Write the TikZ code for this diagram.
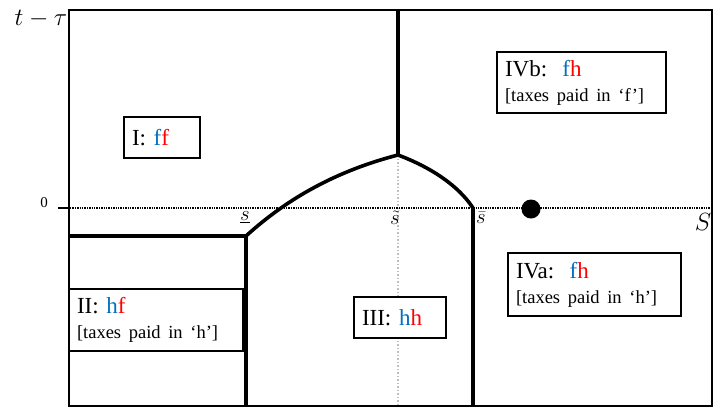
\documentclass[tikz,border=0pt]{standalone}
\usepackage{fontspec}
\setmainfont{Liberation Serif}
\definecolor{fblue}{RGB}{0,112,192}
\definecolor{hred}{RGB}{255,0,0}
\newcommand{\hh}{\textcolor{hred}{h}}
\newcommand{\fb}{\textcolor{fblue}{f}}
\newcommand{\hb}{\textcolor{fblue}{h}}
\newcommand{\fr}{\textcolor{hred}{f}}
\newcommand{\smalltax}[1]{{\fontsize{18.5}{21}\selectfont [taxes paid in ‘#1’]}}
\begin{document}
\begin{tikzpicture}[x=1pt,y=-1pt,
  regbox/.style={draw=black,line width=1.8pt,fill=white,inner ysep=0pt,inner xsep=8pt,align=left,font=\fontsize{23}{26}\selectfont},
  border/.style={line width=2pt},
  thickline/.style={line width=3.6pt},
  axisdot/.style={densely dotted,line width=1.4pt},
  guide/.style={dotted,line width=1.5pt,black!25},
  lab/.style={font=\fontsize{20}{22}\selectfont,inner sep=0pt}]
\useasboundingbox (0,0) rectangle (713,408);
% frame
\coordinate (tl) at (69,10);
\coordinate (tr) at (712,10);
\coordinate (bl) at (69,406);
\coordinate (br) at (712,406);
% key points
\coordinate (j) at (398,155);
\coordinate (top) at (398,10);
\coordinate (a) at (246,236);
\coordinate (al) at (69,236);
\coordinate (ab) at (246,406);
\coordinate (b) at (473,208);
\coordinate (bb) at (473,406);
\coordinate (jb) at (398,406);
\coordinate (ax0) at (58,208);
\coordinate (ax1) at (712,208);
% guide line
\draw[guide] (j) -- (jb);
% axis
\draw[axisdot] (ax0) -- (ax1);
\draw[line width=1.6pt] (ax0) -- ++(11,0);
% frame
\draw[border] (tl) -- (bl) -- (br) -- (tr) -- cycle;
% thick boundaries
\draw[thickline] (top) -- (j);
\draw[thickline] (al) -- (a) -- (ab);
\draw[thickline] (a) .. controls (290,196) and (340,170) .. (j);
\draw[thickline] (j) .. controls (430,167) and (458,185) .. (b) -- (bb);
% dot
\node[circle,fill=black,inner sep=0pt,minimum size=19pt] (dot) at (531,209) {};
% labels
\node[font=\fontsize{23}{26}\selectfont,inner sep=0pt] (ttau) at (41,19) {$t-\tau$};
\node[font=\fontsize{23}{26}\selectfont,inner sep=0pt] (S) at (703,222) {$S$};
\node[font=\fontsize{15}{17}\selectfont,inner sep=0pt] (zero) at (44,203) {0};
\node[lab] (sl) at (245,217) {$\underline{s}$};
\node[lab] (st) at (395,218) {$\tilde{s}$};
\node[lab] (sb) at (481,218) {$\bar{s}$};
% boxes
\node[regbox,minimum width=76pt,minimum height=41pt,text width=60pt] (I) at (162,137.5) {I: \fb\fr};
\node[regbox,minimum width=169pt,minimum height=61pt,text width=153pt] (IVb) at (581.5,82.5) {IVb:\ \ \fb\hh\\[-1pt]\smalltax{f}};
\node[regbox,minimum width=174pt,minimum height=62pt,text width=158pt] (II) at (156,320) {II:\ \hb\fr\\[-1pt]\smalltax{h}};
\node[regbox,minimum width=173pt,minimum height=63pt,text width=157pt] (IVa) at (594.5,284.5) {IVa:\ \ \fb\hh\\[-1pt]\smalltax{h}};
\node[regbox,minimum width=92pt,minimum height=41pt,text width=76pt] (III) at (400,317.5) {III: \hb\hh};
\end{tikzpicture}
\end{document}
